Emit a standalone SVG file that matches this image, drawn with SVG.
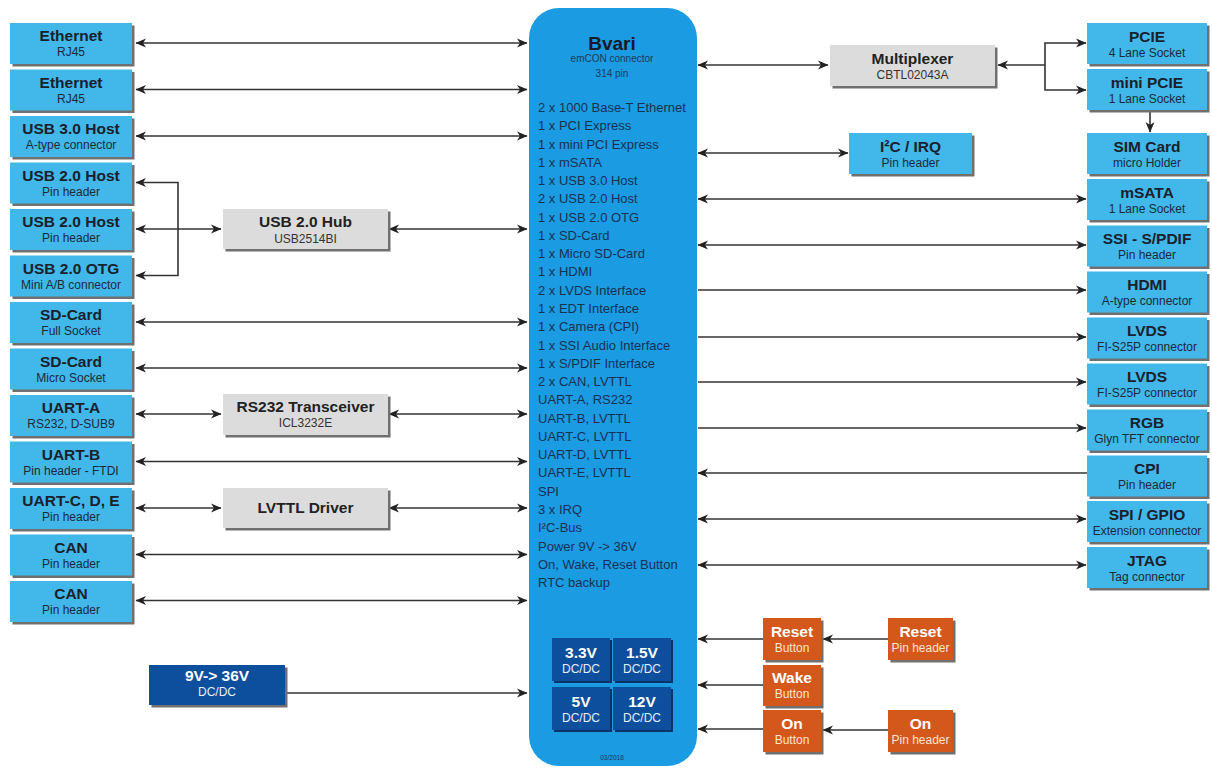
<svg xmlns="http://www.w3.org/2000/svg" width="1212" height="769" viewBox="0 0 1212 769">
<defs>
<marker id="ah" markerUnits="userSpaceOnUse" markerWidth="11" markerHeight="10" refX="10" refY="5" orient="auto-start-reverse" viewBox="0 0 11 10">
<path d="M0,0.5 L10.5,5 L0,9.5 L3,5 Z" fill="#222"/>
</marker>
</defs>
<style>
text{font-family:"Liberation Sans",Arial,sans-serif;text-anchor:middle}
.sh{fill:#707070}
.ds{fill:#0a3468}
.lb{fill:#42b7e9}
.gr{fill:#dcdcdc}
.db{fill:#0d4f9c}
.or{fill:#d4581c}
.t{font-weight:bold;font-size:15.5px;fill:#1a202c}
.s{font-size:12px;fill:#1c2a3a}
.gt{font-weight:bold;font-size:15.5px;fill:#222}
.gs{font-size:12px;fill:#333}
.wt{font-weight:bold;font-size:15.5px;fill:#fff}
.ws{font-size:12px;fill:#e8eef8}
.os{font-size:12px;fill:#fbe3d4}
.ln{stroke:#333;stroke-width:1.6;fill:none}
.li{font-size:13px;fill:#173152;text-anchor:start}
</style>
<rect width="1212" height="769" fill="#fff"/>

<g id="connectors">
<line class="ln" x1="136" y1="43" x2="527" y2="43" marker-start="url(#ah)" marker-end="url(#ah)"/>
<line class="ln" x1="136" y1="89.5" x2="527" y2="89.5" marker-start="url(#ah)" marker-end="url(#ah)"/>
<line class="ln" x1="136" y1="136" x2="527" y2="136" marker-start="url(#ah)" marker-end="url(#ah)"/>
<polyline class="ln" points="136,182.5 178,182.5 178,275.5 136,275.5" marker-start="url(#ah)" marker-end="url(#ah)"/>
<line class="ln" x1="136" y1="229" x2="221" y2="229" marker-start="url(#ah)" marker-end="url(#ah)"/>
<line class="ln" x1="389" y1="229" x2="527" y2="229" marker-start="url(#ah)" marker-end="url(#ah)"/>
<line class="ln" x1="136" y1="322" x2="527" y2="322" marker-start="url(#ah)" marker-end="url(#ah)"/>
<line class="ln" x1="136" y1="368" x2="527" y2="368" marker-start="url(#ah)" marker-end="url(#ah)"/>
<line class="ln" x1="136" y1="414" x2="221" y2="414" marker-start="url(#ah)" marker-end="url(#ah)"/>
<line class="ln" x1="389" y1="414" x2="527" y2="414" marker-start="url(#ah)" marker-end="url(#ah)"/>
<line class="ln" x1="136" y1="461.5" x2="527" y2="461.5" marker-start="url(#ah)" marker-end="url(#ah)"/>
<line class="ln" x1="136" y1="508" x2="221" y2="508" marker-start="url(#ah)" marker-end="url(#ah)"/>
<line class="ln" x1="389" y1="508" x2="527" y2="508" marker-start="url(#ah)" marker-end="url(#ah)"/>
<line class="ln" x1="136" y1="554.5" x2="527" y2="554.5" marker-start="url(#ah)" marker-end="url(#ah)"/>
<line class="ln" x1="136" y1="600.5" x2="527" y2="600.5" marker-start="url(#ah)" marker-end="url(#ah)"/>
<line class="ln" x1="286" y1="693" x2="527" y2="693" marker-end="url(#ah)"/>

<line class="ln" x1="698" y1="65" x2="828" y2="65" marker-start="url(#ah)" marker-end="url(#ah)"/>
<line class="ln" x1="998" y1="65" x2="1045" y2="65" marker-start="url(#ah)"/>
<polyline class="ln" points="1086,43 1045,43 1045,90 1086,90" marker-start="url(#ah)" marker-end="url(#ah)"/>
<line class="ln" x1="1150" y1="111" x2="1150" y2="132" marker-end="url(#ah)"/>
<line class="ln" x1="698" y1="153" x2="848" y2="153" marker-start="url(#ah)" marker-end="url(#ah)"/>
<line class="ln" x1="698" y1="199" x2="1086" y2="199" marker-start="url(#ah)" marker-end="url(#ah)"/>
<line class="ln" x1="698" y1="245" x2="1086" y2="245" marker-start="url(#ah)" marker-end="url(#ah)"/>
<line class="ln" x1="698" y1="290" x2="1086" y2="290" marker-end="url(#ah)"/>
<line class="ln" x1="698" y1="337" x2="1086" y2="337" marker-end="url(#ah)"/>
<line class="ln" x1="698" y1="382" x2="1086" y2="382" marker-end="url(#ah)"/>
<line class="ln" x1="698" y1="428" x2="1086" y2="428" marker-end="url(#ah)"/>
<line class="ln" x1="698" y1="473" x2="1087" y2="473" marker-start="url(#ah)"/>
<line class="ln" x1="698" y1="519" x2="1086" y2="519" marker-start="url(#ah)" marker-end="url(#ah)"/>
<line class="ln" x1="698" y1="565" x2="1086" y2="565" marker-start="url(#ah)" marker-end="url(#ah)"/>
<line class="ln" x1="698" y1="639" x2="763" y2="639" marker-start="url(#ah)"/>
<line class="ln" x1="698" y1="685" x2="763" y2="685" marker-start="url(#ah)"/>
<line class="ln" x1="698" y1="729" x2="763" y2="729" marker-start="url(#ah)"/>
<line class="ln" x1="888" y1="639" x2="823" y2="639" marker-end="url(#ah)"/>
<line class="ln" x1="888" y1="730" x2="823" y2="730" marker-end="url(#ah)"/>
</g>

<g id="bvari">
<rect x="529" y="8" width="168" height="758" rx="30" fill="#1a9be2"/>
<text x="612" y="50" style="font-weight:bold;font-size:19px;fill:#161a2a">Bvari</text>
<text x="612" y="62" style="font-size:10px;fill:#1b3a5c">emCON connector</text>
<text x="612" y="77" style="font-size:10px;fill:#1b3a5c">314 pin</text>
<text class="li" x="538" y="112">2 x 1000 Base-T Ethernet</text>
<text class="li" x="538" y="130.3">1 x PCI Express</text>
<text class="li" x="538" y="148.5">1 x mini PCI Express</text>
<text class="li" x="538" y="166.8">1 x mSATA</text>
<text class="li" x="538" y="185.1">1 x USB 3.0 Host</text>
<text class="li" x="538" y="203.4">2 x USB 2.0 Host</text>
<text class="li" x="538" y="221.6">1 x USB 2.0 OTG</text>
<text class="li" x="538" y="239.9">1 x SD-Card</text>
<text class="li" x="538" y="258.2">1 x Micro SD-Card</text>
<text class="li" x="538" y="276.4">1 x HDMI</text>
<text class="li" x="538" y="294.7">2 x LVDS Interface</text>
<text class="li" x="538" y="313">1 x EDT Interface</text>
<text class="li" x="538" y="331.2">1 x Camera (CPI)</text>
<text class="li" x="538" y="349.5">1 x SSI Audio Interface</text>
<text class="li" x="538" y="367.8">1 x S/PDIF Interface</text>
<text class="li" x="538" y="386">2 x CAN, LVTTL</text>
<text class="li" x="538" y="404.3">UART-A, RS232</text>
<text class="li" x="538" y="422.6">UART-B, LVTTL</text>
<text class="li" x="538" y="440.9">UART-C, LVTTL</text>
<text class="li" x="538" y="459.1">UART-D, LVTTL</text>
<text class="li" x="538" y="477.4">UART-E, LVTTL</text>
<text class="li" x="538" y="495.7">SPI</text>
<text class="li" x="538" y="513.9">3 x IRQ</text>
<text class="li" x="538" y="532.2">I²C-Bus</text>
<text class="li" x="538" y="550.5">Power 9V -&gt; 36V</text>
<text class="li" x="538" y="568.7">On, Wake, Reset Button</text>
<text class="li" x="538" y="587">RTC backup</text>
<text x="612" y="760" style="font-size:6.5px;fill:#1b3a5c">03/2018</text>
</g>

<g id="dc33"><rect class="ds" x="554" y="640" width="58" height="43"/><rect class="db" x="552" y="638" width="58" height="43"/><text class="wt" x="581" y="658">3.3V</text><text class="ws" x="581" y="673">DC/DC</text></g>
<g id="dc15"><rect class="ds" x="615" y="640" width="58" height="43"/><rect class="db" x="613" y="638" width="58" height="43"/><text class="wt" x="642" y="658">1.5V</text><text class="ws" x="642" y="673">DC/DC</text></g>
<g id="dc5"><rect class="ds" x="554" y="689" width="58" height="43"/><rect class="db" x="552" y="687" width="58" height="43"/><text class="wt" x="581" y="707">5V</text><text class="ws" x="581" y="722">DC/DC</text></g>
<g id="dc12"><rect class="ds" x="615" y="689" width="58" height="43"/><rect class="db" x="613" y="687" width="58" height="43"/><text class="wt" x="642" y="707">12V</text><text class="ws" x="642" y="722">DC/DC</text></g>

<g id="eth1"><rect class="sh" x="12.5" y="25.5" width="122" height="41"/><rect class="lb" x="10" y="23" width="122" height="41"/><text class="t" x="71" y="41">Ethernet</text><text class="s" x="71" y="56">RJ45</text></g>
<g id="eth2"><rect class="sh" x="12.5" y="72" width="122" height="41"/><rect class="lb" x="10" y="69.5" width="122" height="41"/><text class="t" x="71" y="87.5">Ethernet</text><text class="s" x="71" y="102.5">RJ45</text></g>
<g id="usb30"><rect class="sh" x="12.5" y="118.5" width="122" height="41"/><rect class="lb" x="10" y="116" width="122" height="41"/><text class="t" x="71" y="134">USB 3.0 Host</text><text class="s" x="71" y="149">A-type connector</text></g>
<g id="usb20a"><rect class="sh" x="12.5" y="165" width="122" height="41"/><rect class="lb" x="10" y="162.5" width="122" height="41"/><text class="t" x="71" y="180.5">USB 2.0 Host</text><text class="s" x="71" y="195.5">Pin header</text></g>
<g id="usb20b"><rect class="sh" x="12.5" y="211.5" width="122" height="41"/><rect class="lb" x="10" y="209" width="122" height="41"/><text class="t" x="71" y="227">USB 2.0 Host</text><text class="s" x="71" y="242">Pin header</text></g>
<g id="otg"><rect class="sh" x="12.5" y="258" width="122" height="41"/><rect class="lb" x="10" y="255.5" width="122" height="41"/><text class="t" x="71" y="273.5">USB 2.0 OTG</text><text class="s" x="71" y="288.5">Mini A/B connector</text></g>
<g id="sd1"><rect class="sh" x="12.5" y="304.5" width="122" height="41"/><rect class="lb" x="10" y="302" width="122" height="41"/><text class="t" x="71" y="320">SD-Card</text><text class="s" x="71" y="335">Full Socket</text></g>
<g id="sd2"><rect class="sh" x="12.5" y="351" width="122" height="41"/><rect class="lb" x="10" y="348.5" width="122" height="41"/><text class="t" x="71" y="366.5">SD-Card</text><text class="s" x="71" y="381.5">Micro Socket</text></g>
<g id="uarta"><rect class="sh" x="12.5" y="397.5" width="122" height="41"/><rect class="lb" x="10" y="395" width="122" height="41"/><text class="t" x="71" y="413">UART-A</text><text class="s" x="71" y="428">RS232, D-SUB9</text></g>
<g id="uartb"><rect class="sh" x="12.5" y="444" width="122" height="41"/><rect class="lb" x="10" y="441.5" width="122" height="41"/><text class="t" x="71" y="459.5">UART-B</text><text class="s" x="71" y="474.5">Pin header - FTDI</text></g>
<g id="uartc"><rect class="sh" x="12.5" y="490.5" width="122" height="41"/><rect class="lb" x="10" y="488" width="122" height="41"/><text class="t" x="71" y="506">UART-C, D, E</text><text class="s" x="71" y="521">Pin header</text></g>
<g id="can1"><rect class="sh" x="12.5" y="537" width="122" height="41"/><rect class="lb" x="10" y="534.5" width="122" height="41"/><text class="t" x="71" y="552.5">CAN</text><text class="s" x="71" y="567.5">Pin header</text></g>
<g id="can2"><rect class="sh" x="12.5" y="583.5" width="122" height="41"/><rect class="lb" x="10" y="581" width="122" height="41"/><text class="t" x="71" y="599">CAN</text><text class="s" x="71" y="614">Pin header</text></g>

<g id="usbhub"><rect class="sh" x="225.5" y="211.5" width="165" height="40"/><rect class="gr" x="223" y="209" width="165" height="40"/><text class="gt" x="305.5" y="227">USB 2.0 Hub</text><text class="gs" x="305.5" y="243">USB2514BI</text></g>
<g id="rs232"><rect class="sh" x="225.5" y="396.5" width="165" height="41"/><rect class="gr" x="223" y="394" width="165" height="41"/><text class="gt" x="305.5" y="412">RS232 Transceiver</text><text class="gs" x="305.5" y="427">ICL3232E</text></g>
<g id="lvttl"><rect class="sh" x="225.5" y="490.5" width="165" height="40"/><rect class="gr" x="223" y="488" width="165" height="40"/><text class="gt" x="305.5" y="513">LVTTL Driver</text></g>
<g id="mux"><rect class="sh" x="832.5" y="47.5" width="165" height="41"/><rect class="gr" x="830" y="45" width="165" height="41"/><text class="gt" x="912.5" y="64">Multiplexer</text><text class="gs" x="912.5" y="79">CBTL02043A</text></g>
<g id="i2c"><rect class="sh" x="851.5" y="135.5" width="123" height="41"/><rect class="lb" x="849" y="133" width="123" height="41"/><text class="t" x="910.5" y="152">I²C / IRQ</text><text class="s" x="910.5" y="167">Pin header</text></g>

<g id="pcie"><rect class="sh" x="1089.5" y="25.5" width="120" height="41"/><rect class="lb" x="1087" y="23" width="120" height="41"/><text class="t" x="1147" y="42">PCIE</text><text class="s" x="1147" y="57">4 Lane Socket</text></g>
<g id="minipcie"><rect class="sh" x="1089.5" y="71.5" width="120" height="41"/><rect class="lb" x="1087" y="69" width="120" height="41"/><text class="t" x="1147" y="88">mini PCIE</text><text class="s" x="1147" y="103">1 Lane Socket</text></g>
<g id="sim"><rect class="sh" x="1089.5" y="135.5" width="120" height="41"/><rect class="lb" x="1087" y="133" width="120" height="41"/><text class="t" x="1147" y="152">SIM Card</text><text class="s" x="1147" y="167">micro Holder</text></g>
<g id="msata"><rect class="sh" x="1089.5" y="181.5" width="120" height="41"/><rect class="lb" x="1087" y="179" width="120" height="41"/><text class="t" x="1147" y="198">mSATA</text><text class="s" x="1147" y="213">1 Lane Socket</text></g>
<g id="ssi"><rect class="sh" x="1089.5" y="228" width="120" height="41"/><rect class="lb" x="1087" y="225.5" width="120" height="41"/><text class="t" x="1147" y="244">SSI - S/PDIF</text><text class="s" x="1147" y="259">Pin header</text></g>
<g id="hdmi"><rect class="sh" x="1089.5" y="274" width="120" height="41"/><rect class="lb" x="1087" y="271.5" width="120" height="41"/><text class="t" x="1147" y="290">HDMI</text><text class="s" x="1147" y="305">A-type connector</text></g>
<g id="lvds1"><rect class="sh" x="1089.5" y="320" width="120" height="41"/><rect class="lb" x="1087" y="317.5" width="120" height="41"/><text class="t" x="1147" y="336">LVDS</text><text class="s" x="1147" y="351">FI-S25P connector</text></g>
<g id="lvds2"><rect class="sh" x="1089.5" y="366" width="120" height="41"/><rect class="lb" x="1087" y="363.5" width="120" height="41"/><text class="t" x="1147" y="382">LVDS</text><text class="s" x="1147" y="397">FI-S25P connector</text></g>
<g id="rgb"><rect class="sh" x="1089.5" y="412" width="120" height="41"/><rect class="lb" x="1087" y="409.5" width="120" height="41"/><text class="t" x="1147" y="428">RGB</text><text class="s" x="1147" y="443">Glyn TFT connector</text></g>
<g id="cpi"><rect class="sh" x="1089.5" y="458" width="120" height="41"/><rect class="lb" x="1087" y="455.5" width="120" height="41"/><text class="t" x="1147" y="474">CPI</text><text class="s" x="1147" y="489">Pin header</text></g>
<g id="spi"><rect class="sh" x="1089.5" y="503.5" width="120" height="41"/><rect class="lb" x="1087" y="501" width="120" height="41"/><text class="t" x="1147" y="519.5">SPI / GPIO</text><text class="s" x="1147" y="534.5">Extension connector</text></g>
<g id="jtag"><rect class="sh" x="1089.5" y="549.5" width="120" height="41"/><rect class="lb" x="1087" y="547" width="120" height="41"/><text class="t" x="1147" y="565.5">JTAG</text><text class="s" x="1147" y="580.5">Tag connector</text></g>

<g id="resetbtn"><rect class="sh" x="765.5" y="620.5" width="58" height="42"/><rect class="or" x="763" y="618" width="58" height="42"/><text class="wt" x="792" y="637">Reset</text><text class="os" x="792" y="652">Button</text></g>
<g id="wakebtn"><rect class="sh" x="765.5" y="667.5" width="58" height="41"/><rect class="or" x="763" y="665" width="58" height="41"/><text class="wt" x="792" y="683">Wake</text><text class="os" x="792" y="698">Button</text></g>
<g id="onbtn"><rect class="sh" x="765.5" y="712.5" width="58" height="42"/><rect class="or" x="763" y="710" width="58" height="42"/><text class="wt" x="792" y="729">On</text><text class="os" x="792" y="744">Button</text></g>
<g id="resetpin"><rect class="sh" x="890.5" y="620.5" width="65" height="42"/><rect class="or" x="888" y="618" width="65" height="42"/><text class="wt" x="920.5" y="637">Reset</text><text class="os" x="920.5" y="652">Pin header</text></g>
<g id="onpin"><rect class="sh" x="890.5" y="712.5" width="65" height="42"/><rect class="or" x="888" y="710" width="65" height="42"/><text class="wt" x="920.5" y="729">On</text><text class="os" x="920.5" y="744">Pin header</text></g>

<g id="dc936"><rect class="sh" x="151.5" y="667.5" width="136" height="40"/><rect class="db" x="149" y="665" width="136" height="40"/><text class="wt" x="217" y="681">9V-&gt; 36V</text><text class="ws" x="217" y="696">DC/DC</text></g>
</svg>
